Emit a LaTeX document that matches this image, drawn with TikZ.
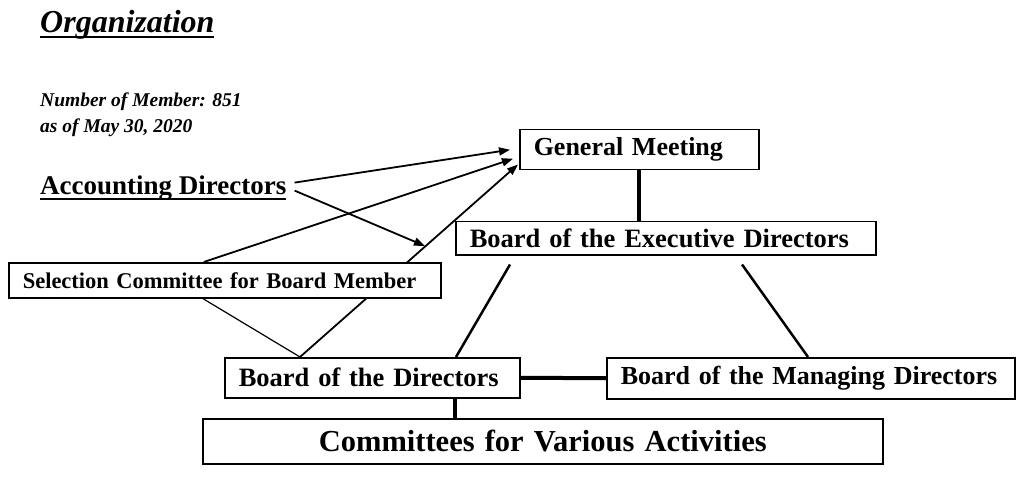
\documentclass[tikz,border=0pt]{standalone}
\usepackage{fontspec}
\setmainfont{Liberation Serif}
\usetikzlibrary{arrows.meta,positioning,calc}
\newcommand{\thickul}[1]{\setbox0\hbox{#1}\rlap{\vrule width \wd0 height -3pt depth 5pt}\box0}

\begin{document}
\begin{tikzpicture}[x=1pt,y=-1pt,
    box/.style={draw, line width=1.5pt, fill=white, anchor=north west, inner ysep=0pt, inner xsep=14pt, align=left},
    arr/.style={-{Triangle[length=11pt,width=8pt]}, line width=1.8pt},
    link/.style={line width=2.5pt},
    bar/.style={line width=4pt}]
    \useasboundingbox (0,0) rectangle (1024,478);

    % Heading
    \node[anchor=base west, inner sep=0pt, font=\bfseries\itshape\fontsize{32}{36}\selectfont] (title) at (40,33) {\thickul{Organization}};
    \node[anchor=base west, inner sep=0pt, align=left, font=\bfseries\itshape\fontsize{19.5}{26}\selectfont] (count) at (40,133) {Number of Member: 851\\as of May 30, 2020};
    \node[anchor=base west, inner xsep=8pt, inner ysep=0pt, font=\bfseries\fontsize{27}{30}\selectfont] (ad) at (32,195) {\thickul{Accounting Directors}};

    % Boxes
    \node[box, text width=211pt, minimum height=40pt, font=\bfseries\fontsize{26}{28}\selectfont] (gm) at (519,129) {General Meeting};
    \node[box, text width=392pt, minimum height=33pt, font=\bfseries\fontsize{26.5}{28}\selectfont] (bed) at (455,221) {Board of the Executive Directors};
    \node[box, text width=267pt, minimum height=40pt, font=\bfseries\fontsize{26.5}{28}\selectfont] (bd) at (224,357) {Board of the Directors};
    \node[box, text width=380pt, minimum height=41pt, font=\bfseries\fontsize{26}{28}\selectfont] (bmd) at (606,357) {Board of the Managing Directors};
    \node[box, text width=652pt, minimum height=45pt, align=center, font=\bfseries\fontsize{30.5}{32}\selectfont] (cva) at (202,418) {Committees for Various Activities};
    \coordinate (adtip) at (425,246);
    \coordinate (bdfoot) at ([xshift=231pt]bd.south west);

    % Arrows to the General Meeting
    \draw[arr] ([xshift=76pt]bd.north west) -- ([shift={(-1pt,6pt)}]gm.south west);
    \node[box, text width=404pt, minimum height=35pt, font=\bfseries\fontsize{22.5}{26}\selectfont] (sc) at (8,262) {Selection Committee for Board Member};
    \draw[arr] ([yshift=6pt]ad.east) -- ([xshift=-9pt]gm.west);
    \draw[arr] ([yshift=-2pt]ad.east) -- (adtip);
    \draw[arr] ([xshift=-21pt]sc.north) -- ([shift={(-6pt,-9pt)}]gm.west);
    \draw[line width=1.2pt] ([xshift=-22pt]sc.south) -- ([xshift=76pt]bd.north west);

    % Links between boards
    \draw[bar] (gm.south) -- (gm.south |- bed.north);
    \draw[link] ([shift={(55pt,-9pt)}]bed.south west) -- ([xshift=232pt]bd.north west);
    \draw[link] ([shift={(287pt,-9pt)}]bed.south west) -- ([xshift=202pt]bmd.north west);
    \draw[bar] (bd.east) -- (bmd.west);
    \draw[bar] (bdfoot) -- (bdfoot |- cva.north);
\end{tikzpicture}
\end{document}
